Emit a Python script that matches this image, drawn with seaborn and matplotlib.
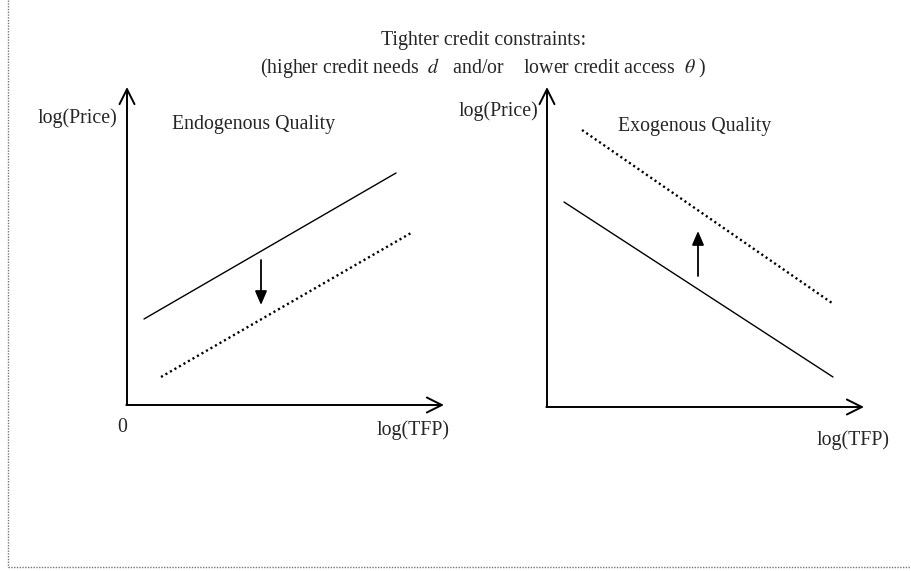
import matplotlib
matplotlib.use("Agg")
import matplotlib.pyplot as plt
import seaborn as sns

sns.set_theme(style="white")
plt.rcParams["font.family"] = ["Liberation Serif", "DejaVu Serif"]
plt.rcParams["mathtext.fontset"] = "stix"

# schematic data, in figure pixel units (912 x 571, y grows downward)
endo_solid_x = [144, 396]
endo_solid_y = [319, 173]
endo_dotted_x = [161, 411]
endo_dotted_y = [377, 233]
exo_solid_x = [564, 833]
exo_solid_y = [202, 377]
exo_dotted_x = [582, 832]
exo_dotted_y = [130, 303]

# axis origins and ends for the two panels
left_origin = (127, 405)
left_top = 87
left_right = 444
right_origin = (547, 407)
right_top = 87
right_right = 864

# shift arrows (x, start y, end y)
endo_shift = (261, 260, 305)
exo_shift = (698, 276, 231)

fig = plt.figure(figsize=(9.12, 5.71), dpi=100)
ax = fig.add_axes([0, 0, 1, 1])
ax.set_xlim(0, 912)
ax.set_ylim(571, 0)
ax.axis("off")

# dotted frame (left and bottom)
ax.plot([8, 8], [0, 567], color="#777777", lw=1.0, ls=(0, (1, 1)))
ax.plot([8, 912], [567, 567], color="#777777", lw=1.0, ls=(0, (1, 1)))

axis_kw = dict(arrowstyle="->,head_length=0.9,head_width=0.45", lw=1.4, color="black",
               shrinkA=0, shrinkB=0)
for (ox, oy), top, right in [(left_origin, left_top, left_right),
                             (right_origin, right_top, right_right)]:
    ax.annotate("", xy=(ox, top), xytext=(ox, oy), arrowprops=axis_kw)
    ax.annotate("", xy=(right, oy), xytext=(ox - 0.7, oy), arrowprops=axis_kw)

sns.lineplot(x=endo_solid_x, y=endo_solid_y, ax=ax, color="black", lw=1.0)
sns.lineplot(x=exo_solid_x, y=exo_solid_y, ax=ax, color="black", lw=1.0)
sns.lineplot(x=endo_dotted_x, y=endo_dotted_y, ax=ax, color="black", lw=1.7,
             linestyle=(0, (0.9, 1.3)))
sns.lineplot(x=exo_dotted_x, y=exo_dotted_y, ax=ax, color="black", lw=1.7,
             linestyle=(0, (0.9, 1.3)))

shift_kw = dict(arrowstyle="-|>,head_length=0.7,head_width=0.3", lw=1.3,
                color="black", shrinkA=0, shrinkB=0)
for sx, y0, y1 in [endo_shift, exo_shift]:
    ax.annotate("", xy=(sx, y1), xytext=(sx, y0), arrowprops=shift_kw)

fs = 14.3
ax.text(484, 40, "Tighter credit constraints:", ha="center", va="center", fontsize=fs)
ax.text(483, 68, r"(higher credit needs  $d$   and/or    lower credit access  $\theta$ )",
        ha="center", va="center", fontsize=fs)

ax.text(77, 118, "log(Price)", ha="center", va="center", fontsize=fs)
ax.text(254, 125, "Endogenous Quality", ha="center", va="center", fontsize=fs)
ax.text(122, 428, "0", ha="center", va="center", fontsize=fs)
ax.text(413, 430, "log(TFP)", ha="center", va="center", fontsize=fs)

ax.text(498, 111, "log(Price)", ha="center", va="center", fontsize=fs)
ax.text(695, 126, "Exogenous Quality", ha="center", va="center", fontsize=fs)
ax.text(853, 440, "log(TFP)", ha="center", va="center", fontsize=fs)

fig.savefig("out.png", dpi=100, facecolor="white")
